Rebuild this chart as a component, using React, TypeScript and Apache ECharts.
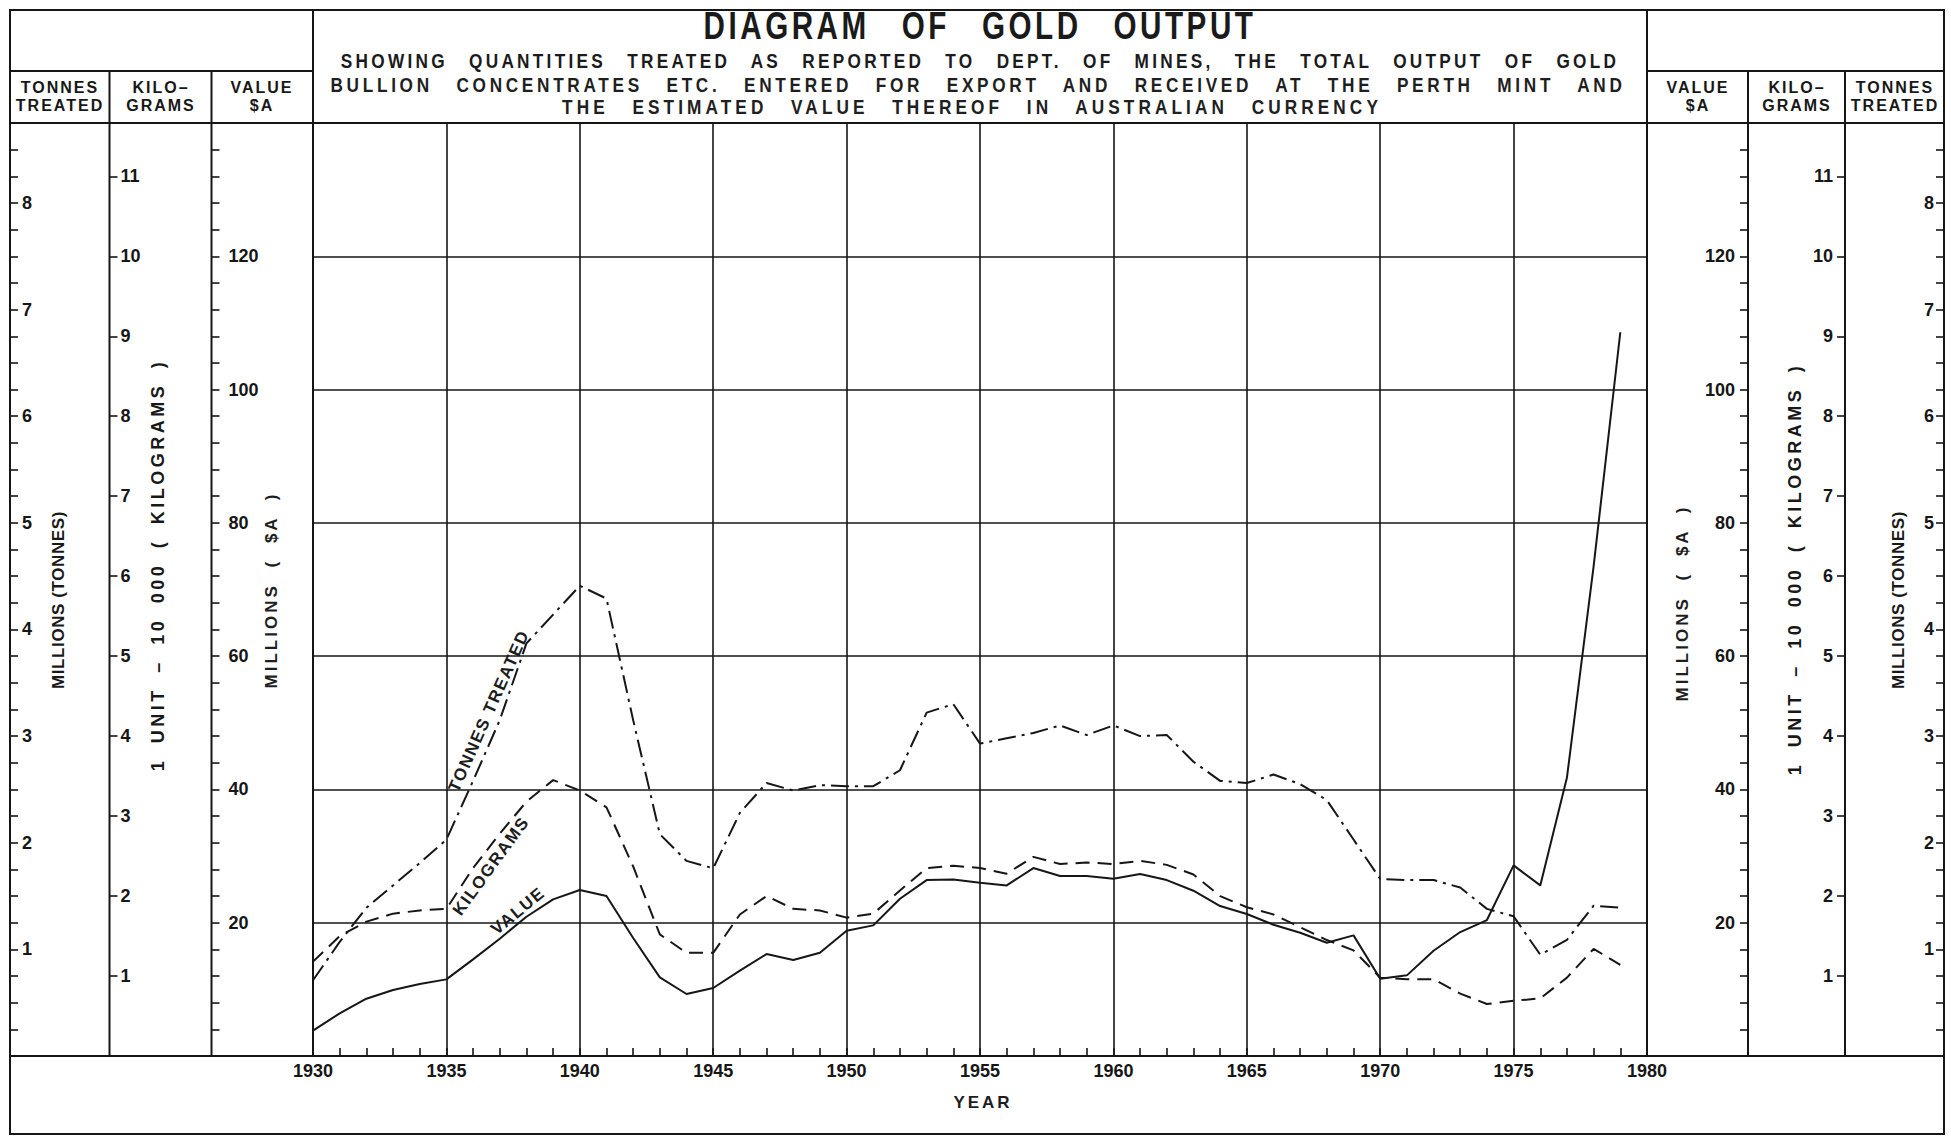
import React, { useEffect, useRef } from "react";
import * as echarts from "echarts";

// ---------------- DATA ----------------
const years = [
  1930, 1931, 1932, 1933, 1934, 1935, 1936, 1937, 1938, 1939,
  1940, 1941, 1942, 1943, 1944, 1945, 1946, 1947, 1948, 1949,
  1950, 1951, 1952, 1953, 1954, 1955, 1956, 1957, 1958, 1959,
  1960, 1961, 1962, 1963, 1964, 1965, 1966, 1967, 1968, 1969,
  1970, 1971, 1972, 1973, 1974, 1975, 1976, 1977, 1978, 1979,
];

// Value, millions of $A
const valueMillions = [
  3.8, 6.4, 8.6, 9.9, 10.8, 11.5, 14.5, 17.6, 20.9, 23.5,
  24.9, 24.0, 17.7, 11.8, 9.3, 10.2, 12.8, 15.3, 14.4, 15.5,
  18.8, 19.6, 23.6, 26.4, 26.5, 26.0, 25.6, 28.2, 27.0, 27.0,
  26.6, 27.3, 26.4, 24.8, 22.5, 21.3, 19.7, 18.5, 17.0, 18.1,
  11.6, 12.1, 15.8, 18.6, 20.4, 28.6, 25.6, 41.8, 73.5, 108.6,
];

// Kilograms, 1 unit = 10 000 kg
const kilograms10k = [
  1.18, 1.5, 1.68, 1.78, 1.82, 1.84, 2.35, 2.78, 3.18, 3.45,
  3.32, 3.11, 2.37, 1.52, 1.29, 1.29, 1.77, 2.0, 1.84, 1.82,
  1.73, 1.78, 2.07, 2.35, 2.38, 2.35, 2.28, 2.49, 2.4, 2.42,
  2.4, 2.44, 2.39, 2.27, 2.0, 1.86, 1.77, 1.61, 1.45, 1.32,
  0.98, 0.96, 0.96, 0.78, 0.65, 0.69, 0.72, 0.98, 1.34, 1.14,
];

// Tonnes treated, millions
const tonnesMillions = [
  0.71, 1.07, 1.39, 1.6, 1.81, 2.03, 2.58, 3.15, 3.87, 4.14,
  4.41, 4.29, 3.15, 2.08, 1.83, 1.76, 2.28, 2.56, 2.49, 2.54,
  2.53, 2.53, 2.68, 3.22, 3.3, 2.93, 2.98, 3.03, 3.1, 3.01,
  3.1, 3.0, 3.01, 2.76, 2.58, 2.56, 2.64, 2.55, 2.4, 2.03,
  1.66, 1.65, 1.65, 1.58, 1.38, 1.31, 0.95, 1.09, 1.41, 1.39,
];

// Axis extents (value 140 <-> 11.667 x 10 000 kg <-> 8.75 Mt)
const valueMax = 140;
const kgMax = 140 / 12;
const tonnesMax = 8.75;
const yearMin = 1930;
const yearMax = 1980;

const titleText = "DIAGRAM OF GOLD OUTPUT";
const subtitleLines = [
  "SHOWING QUANTITIES TREATED AS REPORTED TO DEPT. OF MINES, THE TOTAL OUTPUT OF GOLD",
  "BULLION CONCENTRATES ETC. ENTERED FOR EXPORT AND RECEIVED AT THE PERTH MINT AND",
  "THE ESTIMATED VALUE THEREOF IN AUSTRALIAN CURRENCY",
];

// ---------------- STYLE ----------------
const INK = "#161616";
const C_HEAD = "#171717";
const C_VNAME = "#181818";
const C_VNAME2 = "#191919";
const C_TITLE = "#1a1a1a";
const C_SUB = "#1b1b1b";
const C_INLINE = "#1c1c1c";
const C_YEAR = "#1d1d1d";
const C_VNAME3 = "#1e1e1e";
const C_SUB2 = "#1f1f1f";
const C_SUB3 = "#202020";

const css = `
text[fill="${C_HEAD}"] { letter-spacing: 2px; }
text[fill="${C_VNAME}"] { letter-spacing: 3.5px; word-spacing: 6px; }
text[fill="${C_VNAME2}"] { letter-spacing: 0.6px; }
text[fill="${C_VNAME3}"] { letter-spacing: 3px; word-spacing: 8px; }
text[fill="${C_TITLE}"] { letter-spacing: 4.5px; word-spacing: 26px; }
text[fill="${C_SUB}"] { letter-spacing: 4px; word-spacing: 16px; }
text[fill="${C_SUB2}"] { letter-spacing: 4.5px; word-spacing: 18.5px; }
text[fill="${C_SUB3}"] { letter-spacing: 5px; word-spacing: 18px; }
text[fill="${C_INLINE}"] { letter-spacing: 1.5px; }
text[fill="${C_YEAR}"] { letter-spacing: 3px; }
`;

const SANS = '"Liberation Sans", Arial, Helvetica, sans-serif';

const GRID_L = 313;
const GRID_R = 1647;
const GRID_T = 123;
const GRID_B = 1056;

const tickFont = { fontFamily: SANS, fontWeight: "bold" as const, fontSize: 18, color: INK };

function txt(text: string, x: number, y: number, o: any = {}) {
  return {
    type: "text",
    x,
    y,
    rotation: o.rotation || 0,
    scaleX: o.scaleX || 1,
    silent: true,
    style: {
      text,
      fill: o.fill || INK,
      fontFamily: o.fontFamily || SANS,
      fontWeight: o.fontWeight || "bold",
      fontSize: o.fontSize || 16,
      align: o.align || "center",
      verticalAlign: "middle",
    },
  };
}

function ln(x1: number, y1: number, x2: number, y2: number, w = 2) {
  return { type: "line", silent: true, shape: { x1, y1, x2, y2 }, style: { stroke: INK, lineWidth: w } };
}

function valueAxis(position: "left" | "right", offset: number, margin: number) {
  return {
    type: "value",
    position,
    offset,
    min: 0,
    max: valueMax,
    interval: 20,
    axisLine: { show: false },
    axisTick: { show: true, inside: true, length: 8, lineStyle: { color: INK, width: 1.6 } },
    minorTick: { show: true, splitNumber: 5, length: 8, lineStyle: { color: INK, width: 1.6 } },
    axisLabel: {
      inside: true,
      margin,
      ...tickFont,
      formatter: (v: number) => (v > 0 && v < valueMax ? String(v) : ""),
    },
    splitLine: { show: position === "left", lineStyle: { color: INK, width: 1.6 } },
  };
}

function kgAxis(position: "left" | "right", offset: number, margin: number) {
  return {
    type: "value",
    position,
    offset,
    min: 0,
    max: kgMax,
    interval: 1,
    axisLine: { show: false },
    axisTick: { show: true, inside: true, length: 8, lineStyle: { color: INK, width: 1.6 } },
    minorTick: { show: false },
    axisLabel: {
      inside: true,
      margin,
      ...tickFont,
      formatter: (v: number) => (v > 0 && Math.abs(v - Math.round(v)) < 1e-6 ? String(Math.round(v)) : ""),
    },
    splitLine: { show: false },
  };
}

function tonnesAxis(position: "left" | "right", offset: number, margin: number) {
  return {
    type: "value",
    position,
    offset,
    min: 0,
    max: tonnesMax,
    interval: 0.25,
    axisLine: { show: false },
    axisTick: { show: true, inside: true, length: 8, lineStyle: { color: INK, width: 1.6 } },
    minorTick: { show: false },
    axisLabel: {
      inside: true,
      margin,
      interval: 0,
      ...tickFont,
      formatter: (v: number) => (v > 0 && Math.abs(v - Math.round(v)) < 1e-6 ? String(Math.round(v)) : ""),
    },
    splitLine: { show: false },
  };
}

const rad = (d: number) => (d * Math.PI) / 180;

function buildOption() {
  const graphic: any[] = [
    // outer frame
    { type: "rect", silent: true, shape: { x: 10, y: 10, width: 1934, height: 1124 }, style: { fill: "none", stroke: INK, lineWidth: 2 } },
    ln(10, 71, GRID_L, 71),
    ln(GRID_R, 71, 1944, 71),
    ln(10, GRID_T, 1944, GRID_T),
    ln(10, GRID_B, 1944, GRID_B),
    ln(109.5, 71, 109.5, GRID_B),
    ln(211.5, 71, 211.5, GRID_B),
    ln(GRID_L, 10, GRID_L, GRID_B),
    ln(GRID_R, 10, GRID_R, GRID_B),
    ln(1748, 71, 1748, GRID_B),
    ln(1845, 71, 1845, GRID_B),

    // title block
    txt(titleText, 980, 26, { fontSize: 38, fill: C_TITLE, scaleX: 0.78 }),
    txt(subtitleLines[0], 980, 61, { fontSize: 21, fill: C_SUB, scaleX: 0.82 }),
    txt(subtitleLines[1], 978, 85, { fontSize: 21, fill: C_SUB2, scaleX: 0.82 }),
    txt(subtitleLines[2], 972, 107, { fontSize: 21, fill: C_SUB3, scaleX: 0.82 }),

    // column headers, left
    txt("TONNES", 60, 87, { fill: C_HEAD }),
    txt("TREATED", 60, 105, { fill: C_HEAD }),
    txt("KILO\u2013", 161, 87, { fill: C_HEAD }),
    txt("GRAMS", 161, 105, { fill: C_HEAD }),
    txt("VALUE", 262, 87, { fill: C_HEAD }),
    txt("$A", 262, 105, { fill: C_HEAD }),
    // column headers, right
    txt("VALUE", 1698, 87, { fill: C_HEAD }),
    txt("$A", 1698, 105, { fill: C_HEAD }),
    txt("KILO\u2013", 1797, 87, { fill: C_HEAD }),
    txt("GRAMS", 1797, 105, { fill: C_HEAD }),
    txt("TONNES", 1895, 87, { fill: C_HEAD }),
    txt("TREATED", 1895, 105, { fill: C_HEAD }),

    // vertical axis names
    txt("MILLIONS (TONNES)", 58, 600, { rotation: Math.PI / 2, fontSize: 17, fill: C_VNAME2 }),
    txt("1 UNIT \u2013 10 000 ( KILOGRAMS )", 158, 565, { rotation: Math.PI / 2, fontSize: 18, fill: C_VNAME }),
    txt("MILLIONS ( $A )", 271, 590, { rotation: Math.PI / 2, fontSize: 17, fill: C_VNAME3 }),
    txt("MILLIONS ( $A )", 1682, 603, { rotation: Math.PI / 2, fontSize: 17, fill: C_VNAME3 }),
    txt("1 UNIT \u2013 10 000 ( KILOGRAMS )", 1795, 569, { rotation: Math.PI / 2, fontSize: 18, fill: C_VNAME }),
    txt("MILLIONS (TONNES)", 1898, 600, { rotation: Math.PI / 2, fontSize: 17, fill: C_VNAME2 }),

    // inline series labels
    txt("TONNES TREATED", 489, 711, { rotation: rad(66), fontSize: 17, fill: C_INLINE }),
    txt("KILOGRAMS", 491, 866, { rotation: rad(54), fontSize: 17, fill: C_INLINE }),
    txt("VALUE", 518, 911, { rotation: rad(39.5), fontSize: 17, fill: C_INLINE }),

    // x axis name
    txt("YEAR", 983, 1102, { fontSize: 17, fill: C_YEAR }),
  ];

  return {
    animation: false,
    backgroundColor: "#ffffff",
    grid: {
      left: GRID_L,
      right: 1951 - GRID_R,
      top: GRID_T,
      bottom: 1136 - GRID_B,
      containLabel: false,
      outerBoundsMode: "none",
    },
    xAxis: {
      type: "value",
      min: yearMin,
      max: yearMax,
      interval: 5,
      axisLine: { show: true, lineStyle: { color: INK, width: 2 } },
      axisTick: { show: true, inside: true, length: 8, lineStyle: { color: INK, width: 1.6 } },
      minorTick: { show: true, splitNumber: 5, length: 8, lineStyle: { color: INK, width: 1.6 } },
      axisLabel: { margin: 6, ...tickFont, formatter: (v: number) => String(v) },
      splitLine: { show: true, lineStyle: { color: INK, width: 1.6 } },
    },
    yAxis: [
      valueAxis("left", GRID_L - 211.5, 17),
      kgAxis("left", GRID_L - 109.5, 11),
      tonnesAxis("left", GRID_L - 10, 12),
      valueAxis("right", 1748 - GRID_R, 13),
      kgAxis("right", 1845 - GRID_R, 12),
      tonnesAxis("right", 1944 - GRID_R, 10),
    ],
    graphic,
    series: [
      {
        name: "Value ($A millions)",
        type: "line",
        yAxisIndex: 0,
        symbol: "none",
        data: years.map((y, i) => [y, valueMillions[i]]),
        lineStyle: { color: INK, width: 2 },
        z: 5,
      },
      {
        name: "Kilograms (x 10 000)",
        type: "line",
        yAxisIndex: 1,
        symbol: "none",
        data: years.map((y, i) => [y, kilograms10k[i]]),
        lineStyle: { color: INK, width: 2, type: [14, 8] },
        z: 5,
      },
      {
        name: "Tonnes treated (millions)",
        type: "line",
        yAxisIndex: 2,
        symbol: "none",
        data: years.map((y, i) => [y, tonnesMillions[i]]),
        lineStyle: { color: INK, width: 2, type: [18, 6, 3, 6] },
        z: 5,
      },
    ],
  };
}

export default function App() {
  const ref = useRef<HTMLDivElement>(null);
  useEffect(() => {
    document.body.style.margin = "0";
    document.body.style.overflow = "hidden";
    const chart = echarts.init(ref.current as HTMLDivElement, undefined, {
      renderer: "svg",
      width: 1951,
      height: 1136,
    });
    chart.setOption(buildOption() as any);
    return () => chart.dispose();
  }, []);
  return (
    <>
      <style>{css}</style>
      <div ref={ref} style={{ width: 1951, height: 1136, background: "#fff" }} />
    </>
  );
}
